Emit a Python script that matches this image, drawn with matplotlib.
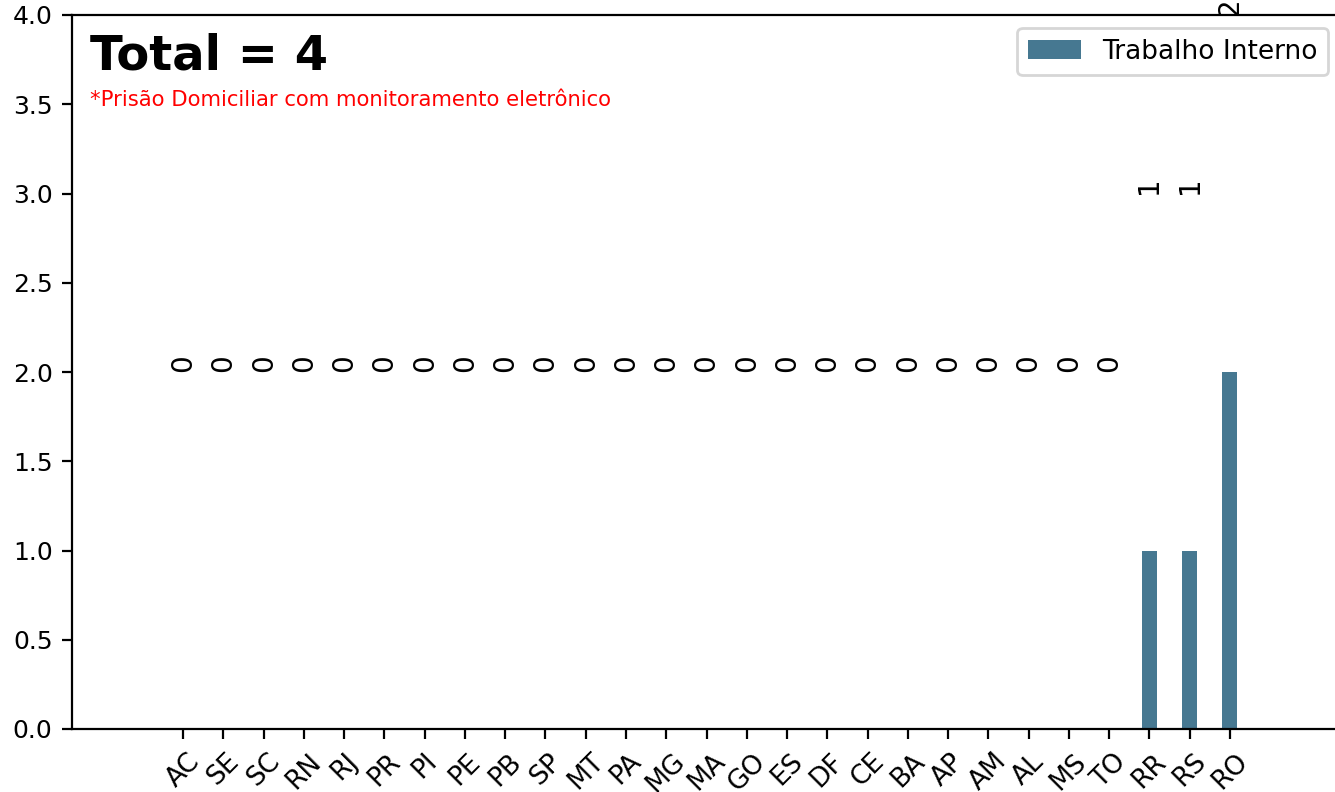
import numpy as np
import matplotlib
matplotlib.use("Agg")
from matplotlib import pyplot as plt

# Data
estados = ["AC", "SE", "SC", "RN", "RJ", "PR", "PI", "PE", "PB", "SP", "MT", "PA", "MG",
           "MA", "GO", "ES", "DF", "CE", "BA", "AP", "AM", "AL", "MS", "TO", "RR", "RS", "RO"]
trabalho_interno = [0, 0, 0, 0, 0, 0, 0, 0, 0, 0, 0, 0, 0,
                    0, 0, 0, 0, 0, 0, 0, 0, 0, 0, 0, 1, 1, 2]
label_offset = 2

bar_colour = "#467891"

fig = plt.figure(figsize=(6.675, 3.96), dpi=200)
ax = fig.add_axes([72 / 1335, 63 / 792, 1269 / 1335, 714 / 792])

x = np.arange(len(estados))
ax.bar(x, trabalho_interno, width=0.37, color=bar_colour, label="Trabalho Interno")

# Value labels
for xi, v in zip(x, trabalho_interno):
    ax.text(xi, v + label_offset, f"{v}", rotation=90, ha="center", va="bottom",
            fontsize=10, clip_on=False)

ax.set_xticks(x)
ax.set_xticklabels(estados, rotation=45, fontsize=9.5)
ax.tick_params(axis="y", labelsize=9)
ax.set_xlim(-2.76, 28.76)
ax.set_ylim(0, 4)

ax.text(0.014, 0.975, f"Total = {sum(trabalho_interno)}", transform=ax.transAxes,
        fontsize=17.3, fontweight="bold", va="top", ha="left")
ax.text(0.014, 0.873, "*Prisão Domiciliar com monitoramento eletrônico",
        transform=ax.transAxes, fontsize=7.6, color="red", va="baseline", ha="left")

ax.legend(loc="upper right", fontsize=9.5)

plt.savefig("out.png", dpi=200)
